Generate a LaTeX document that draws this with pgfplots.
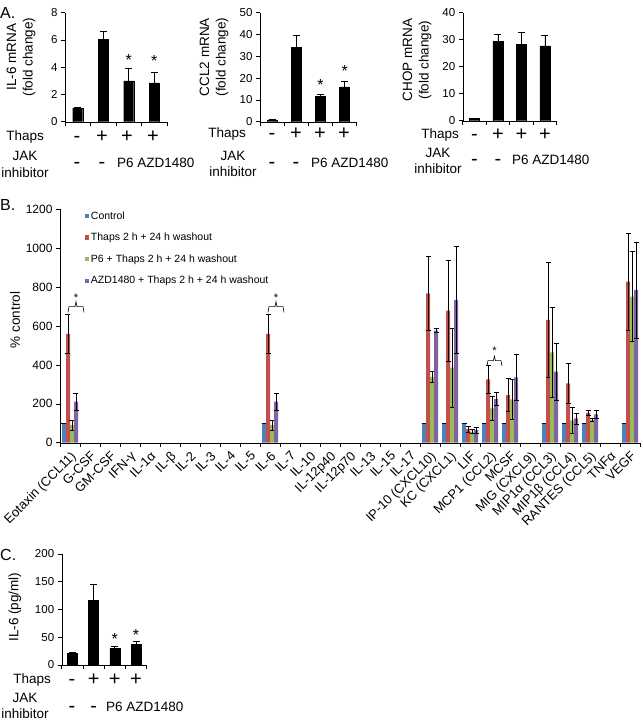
\documentclass[border=0pt]{standalone}
\usepackage{fontspec}
\setmainfont{Liberation Sans}
\usepackage{pgfplots}
\pgfplotsset{compat=1.18}

\definecolor{xlblue}{HTML}{4F81BD}
\definecolor{xlred}{HTML}{C0504D}
\definecolor{xlgreen}{HTML}{9BBB59}
\definecolor{xlpurple}{HTML}{8064A2}

\newcommand{\rowfont}{\fontsize{13.5}{16.5}\selectfont}
\newcommand{\signfont}{\fontsize{20}{20}\selectfont}
\newcommand{\panelfont}{\fontsize{16}{16}\selectfont}

\tikzset{
  ast/.style={anchor=north, inner sep=0pt, font=\fontsize{16}{16}\selectfont},
  sgn/.style={inner sep=0pt, font=\signfont},
  rowlab/.style={inner sep=0pt, font=\rowfont},
}

\pgfplotsset{
  panelA/.style={
    anchor=south west, scale only axis, height=109pt,
    axis x line*=bottom, axis y line*=left, axis line style={-},
    ybar, bar width=10pt,
    xmin=-0.5, xmax=3.5, ymin=0,
    xtick={-0.5,0.5,1.5,2.5,3.5}, xticklabels={},
    tick align=outside, major tick length=4pt,
    tick style={black, line width=0.6pt},
    tick label style={font=\fontsize{11.5}{12}\selectfont},
    /pgf/number format/assume math mode=true,
    clip=false,
    error bars/y dir=plus, error bars/y explicit,
    error bars/error bar style={black, line width=0.8pt},
    error bars/error mark options={rotate=90, mark size=3.5pt, black, line width=0.8pt},
  },
}

\begin{document}
\begin{tikzpicture}
\useasboundingbox (0pt,0pt) rectangle (640pt,-723pt);

% ---------- panel letters
\node[anchor=west, inner sep=0pt, font=\panelfont] at (0pt,-13pt) {A.};
\node[anchor=west, inner sep=0pt, font=\panelfont] at (0pt,-205pt) {B.};
\node[anchor=west, inner sep=0pt, font=\panelfont] at (0pt,-555pt) {C.};

% ---------- A1: IL-6 mRNA
\begin{axis}[panelA, at={(65pt,-121.7pt)}, width=102pt, ymax=8, ytick={0,2,...,8}]
\addplot[fill=black, draw=black] coordinates {(0,1.0) +- (0,0.05) (1,6.05) +- (0,0.55) (2,3.0) +- (0,0.9) (3,2.85) +- (0,0.75)};
\node[ast] at (axis cs:2,4.95) {*};
\node[ast] at (axis cs:3,4.85) {*};
\end{axis}
\node[rotate=90, align=center, rowlab] at (21pt,-57pt) {IL-6 mRNA\\(fold change)};
\node[anchor=east, rowlab] at (44pt,-137pt) {Thaps};
\node[sgn] at (77pt,-137pt) {\vphantom{+}-};
\node[sgn] at (102pt,-137pt) {+};
\node[sgn] at (127pt,-137pt) {+};
\node[sgn] at (153pt,-137pt) {+};
\node[align=center, rowlab] at (25pt,-164.5pt) {JAK\\inhibitor};
\node[sgn] at (77pt,-163pt) {\vphantom{+}-};
\node[sgn] at (102pt,-163pt) {\vphantom{+}-};
\node[anchor=west, rowlab] at (117pt,-163pt) {P6 AZD1480};

% ---------- A2: CCL2 mRNA
\begin{axis}[panelA, at={(260pt,-121.7pt)}, width=96.7pt, ymax=50, ytick={0,10,...,50}]
\addplot[fill=black, draw=black] coordinates {(0,0.8) +- (0,0.2) (1,34) +- (0,5.8) (2,11.5) +- (0,0.8) (3,16) +- (0,2.7)};
\node[ast] at (axis cs:2,19.3) {*};
\node[ast] at (axis cs:3,25.8) {*};
\end{axis}
\node[rotate=90, align=center, rowlab] at (214pt,-57pt) {CCL2 mRNA\\(fold change)};
\node[anchor=east, rowlab] at (246pt,-134pt) {Thaps};
\node[sgn] at (272pt,-134pt) {\vphantom{+}-};
\node[sgn] at (296pt,-134pt) {+};
\node[sgn] at (320pt,-134pt) {+};
\node[sgn] at (344pt,-134pt) {+};
\node[align=center, rowlab] at (233pt,-164pt) {JAK\\inhibitor};
\node[sgn] at (272pt,-163pt) {\vphantom{+}-};
\node[sgn] at (296pt,-163pt) {\vphantom{+}-};
\node[anchor=west, rowlab] at (311pt,-163pt) {P6 AZD1480};

% ---------- A3: CHOP mRNA
\begin{axis}[panelA, at={(462.7pt,-120.7pt)}, width=94pt, height=108pt, ymax=40, ytick={0,10,...,40}]
\addplot[fill=black, draw=black] coordinates {(0,0.9) +- (0,0.1) (1,29.5) +- (0,2.5) (2,28.2) +- (0,4.4) (3,27.7) +- (0,3.9)};
\end{axis}
\node[rotate=90, align=center, rowlab] at (417pt,-60pt) {CHOP mRNA\\(fold change)};
\node[anchor=east, rowlab] at (459pt,-135pt) {Thaps};
\node[sgn] at (474.5pt,-135pt) {\vphantom{+}-};
\node[sgn] at (498pt,-135pt) {+};
\node[sgn] at (521.5pt,-135pt) {+};
\node[sgn] at (545pt,-135pt) {+};
\node[align=center, rowlab] at (438pt,-161pt) {JAK\\inhibitor};
\node[sgn] at (474.5pt,-160pt) {\vphantom{+}-};
\node[sgn] at (498pt,-160pt) {\vphantom{+}-};
\node[anchor=west, rowlab] at (512pt,-160pt) {P6 AZD1480};

% ---------- B: cytokine array
\begin{axis}[
  at={(60pt,-442.7pt)}, anchor=south west,
  scale only axis, width=580pt, height=233.4pt,
  axis x line*=bottom, axis y line*=left, axis line style={-},
  ybar=0pt, bar width=4pt,
  xmin=-0.5, xmax=28.5, ymin=0, ymax=1200,
  ytick={0,200,...,1200},
  xtick={-0.5,0.5,...,28.5}, xticklabels={},
  extra x ticks={0,1,...,28},
  extra x tick labels={{Eotaxin (CCL11)},G-CSF,GM-CSF,IFN-γ,IL-1α,IL-β,IL-2,IL-3,IL-4,IL-5,IL-6,IL-7,IL-10,IL-12p40,IL-12p70,IL-13,IL-15,IL-17,{IP-10 (CXCL10)},{KC (CXCL1)},LIF,{MCP1 (CCL2)},MCSF,{MIG (CXCL9)},{MIP1α (CCL3)},{MIP1β (CCL4)},{RANTES (CCL5)},TNFα,VEGF},
  extra x tick style={tick style={draw=none}},
  tick align=outside, major tick length=4pt,
  tick style={black, line width=0.6pt},
  yticklabel style={font=\fontsize{12}{12}\selectfont},
  xticklabel style={rotate=45, anchor=north east, font=\fontsize{13}{13}\selectfont, inner sep=2.5pt},
  /pgf/number format/assume math mode=true,
  /pgf/number format/1000 sep={},
  error bars/y dir=both, error bars/y explicit,
  error bars/error bar style={black, line width=0.6pt},
  error bars/error mark options={rotate=90, mark size=2.5pt, black, line width=0.6pt},
  legend style={at={(0.042,1)}, anchor=north west, draw=none, fill=none,
    font=\fontsize{10.5}{12}\selectfont, row sep=8.5pt, cells={anchor=west}, inner sep=0pt},
  legend image code/.code={\fill[#1] (0pt,-2.2pt) rectangle (4.4pt,2.2pt);},
  clip=false,
]
\addplot[fill=xlblue, draw=none] coordinates {
  (0,100) +- (0,0) (10,100) +- (0,0) (18,100) +- (0,0) (19,100) +- (0,0)
  (20,100) +- (0,0) (21,100) +- (0,0) (22,100) +- (0,0) (24,100) +- (0,0)
  (25,100) +- (0,0) (26,100) +- (0,0) (28,100) +- (0,0)};
\addlegendentry{Control}
\addplot[fill=xlred, draw=none] coordinates {
  (0,560) +- (0,100) (10,560) +- (0,100) (18,768) +- (0,188) (19,679) +- (0,259)
  (20,70) +- (0,15) (21,326) +- (0,74) (22,245) +- (0,86) (24,631) +- (0,296)
  (25,305) +- (0,103) (26,154) +- (0,15) (28,828) +- (0,249)};
\addlegendentry{Thaps 2 h + 24 h washout}
\addplot[fill=xlgreen, draw=none] coordinates {
  (0,91) +- (0,26) (10,91) +- (0,26) (18,339) +- (0,30) (19,386) +- (0,202)
  (20,57) +- (0,10) (21,177) +- (0,60) (22,223) +- (0,105) (24,465) +- (0,229)
  (25,115) +- (0,67) (26,117) +- (0,8) (28,751) +- (0,231)};
\addlegendentry{P6 + Thaps 2 h + 24 h washout}
\addplot[fill=xlpurple, draw=none] coordinates {
  (0,211) +- (0,43) (10,211) +- (0,43) (18,576) +- (0,10) (19,734) +- (0,274)
  (20,65) +- (0,15) (21,225) +- (0,34) (22,336) +- (0,118) (24,365) +- (0,148)
  (25,125) +- (0,28) (26,146) +- (0,22) (28,785) +- (0,247)};
\addlegendentry{AZD1480 + Thaps 2 h + 24 h washout}
% significance brackets
\draw[black, line width=0.6pt] (axis cs:-0.1,670) -- (axis cs:-0.05,700) -- (axis cs:0.25,700) -- (axis cs:0.3,725) -- (axis cs:0.35,700) -- (axis cs:0.65,700) -- (axis cs:0.7,670);
\node[anchor=north, inner sep=0pt, font=\fontsize{11}{11}\selectfont] at (axis cs:0.3,765) {*};
\draw[black, line width=0.6pt] (axis cs:9.9,670) -- (axis cs:9.95,700) -- (axis cs:10.25,700) -- (axis cs:10.3,725) -- (axis cs:10.35,700) -- (axis cs:10.65,700) -- (axis cs:10.7,670);
\node[anchor=north, inner sep=0pt, font=\fontsize{11}{11}\selectfont] at (axis cs:10.3,765) {*};
\draw[black, line width=0.6pt] (axis cs:20.85,395) -- (axis cs:20.9,422) -- (axis cs:21.17,422) -- (axis cs:21.22,445) -- (axis cs:21.27,422) -- (axis cs:21.55,422) -- (axis cs:21.6,395);
\node[anchor=north, inner sep=0pt, font=\fontsize{11}{11}\selectfont] at (axis cs:21.22,495) {*};
\end{axis}
\node[rotate=90, rowlab] at (15pt,-320pt) {\% control};

% ---------- C: IL-6 protein
\begin{axis}[panelA, at={(61.7pt,-665pt)}, width=85pt, height=111pt, ymax=200, ytick={0,50,...,200}]
\addplot[fill=black, draw=black] coordinates {(0,21) +- (0,1.5) (1,116) +- (0,29) (2,30) +- (0,3.5) (3,37) +- (0,5)};
\node[ast] at (axis cs:2,57) {*};
\node[ast] at (axis cs:3,64) {*};
\end{axis}
\node[rotate=90, rowlab] at (15pt,-607pt) {IL-6 (pg/ml)};
\node[anchor=east, rowlab] at (51pt,-680pt) {Thaps};
\node[sgn] at (72pt,-680pt) {\vphantom{+}-};
\node[sgn] at (93.6pt,-680pt) {+};
\node[sgn] at (114.8pt,-680pt) {+};
\node[sgn] at (136pt,-680pt) {+};
\node[align=center, rowlab] at (25pt,-706pt) {JAK\\inhibitor};
\node[sgn] at (72pt,-707pt) {\vphantom{+}-};
\node[sgn] at (93.6pt,-707pt) {\vphantom{+}-};
\node[anchor=west, rowlab] at (106pt,-707pt) {P6 AZD1480};
\end{tikzpicture}
\end{document}
